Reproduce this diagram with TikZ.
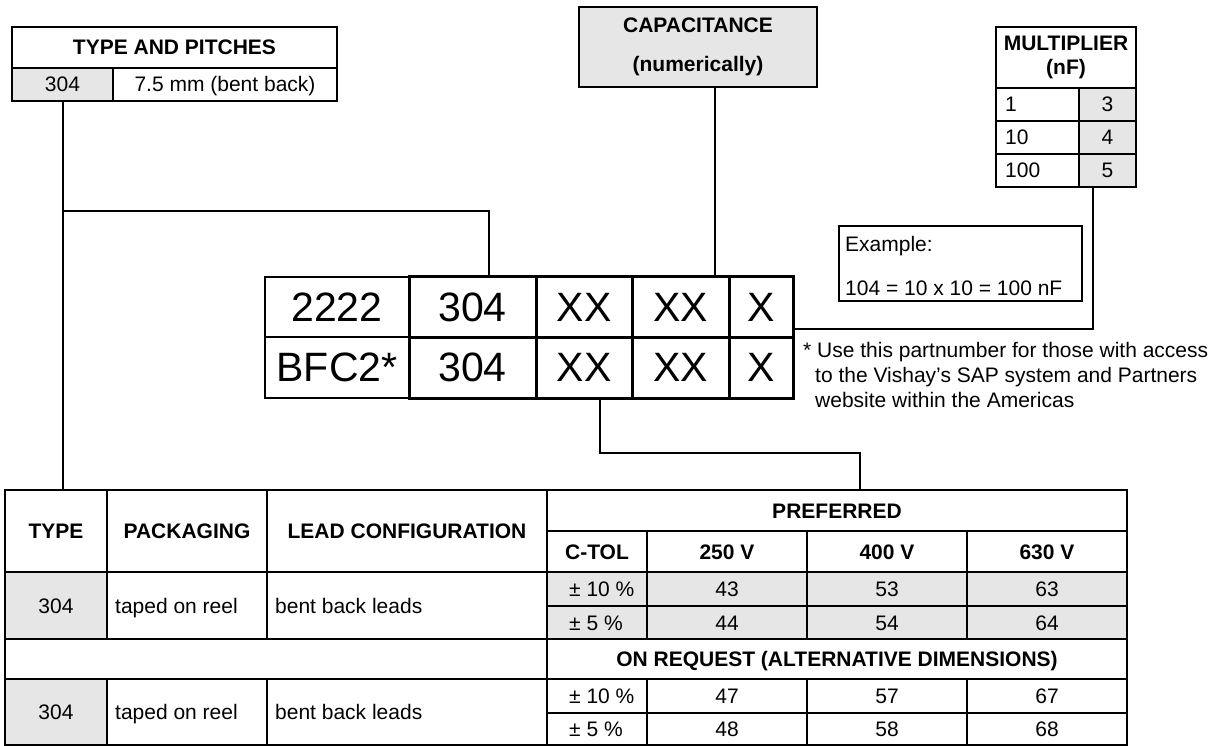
\documentclass[tikz,border=0pt]{standalone}
\usepackage{fontspec}
\setmainfont{Liberation Sans}
\definecolor{cellgray}{HTML}{E6E6E6}
\newcommand\cellbox[7]{%
  \node[#6, minimum width={(#4-#2)*1pt}, minimum height={(#5-#3)*1pt}, anchor=north west] (#1) at (#2,#3) {#7};}
\newcommand\lefttext[4]{%
  \node[tx, anchor=west, inner sep=0pt] (#1) at ([xshift=#3pt]#2.west) {#4};}
\begin{document}
\begin{tikzpicture}[x=1pt,y=-1pt,
  cell/.style={draw, line width=2pt, inner sep=0pt, outer sep=0pt},
  gcell/.style={cell, fill=cellgray},
  pcell/.style={draw, line width=3pt, inner sep=0pt, outer sep=0pt, font=\fontsize{41}{48}\selectfont},
  pcellthin/.style={pcell, line width=1.8pt},
  hd/.style={font=\fontsize{21}{25}\selectfont\bfseries, text height=16pt, text depth=1pt},
  tx/.style={font=\fontsize{21}{25}\selectfont, text height=16pt, text depth=1pt},
  conn/.style={line width=2pt},
]
\useasboundingbox (0,0) rectangle (1216,746);
\fill[white] (0,0) rectangle (1216,746);

% TYPE AND PITCHES
\cellbox{tpH}{12}{27}{337}{68}{cell,hd}{TYPE AND PITCHES}
\cellbox{tpA}{12}{68}{113}{101}{gcell,tx}{304}
\cellbox{tpB}{113}{68}{337}{101}{cell,tx}{7.5 mm (bent back)}

% CAPACITANCE
\cellbox{cap}{579}{7}{817}{87}{gcell,align=center,font=\fontsize{21}{39}\selectfont\bfseries}{CAPACITANCE\\(numerically)}

% MULTIPLIER
\cellbox{mH}{996}{27}{1136}{88}{cell,align=center,font=\fontsize{21}{24}\selectfont\bfseries}{MULTIPLIER\\(nF)}
\cellbox{mA1}{996}{88}{1079}{121}{cell}{}
\cellbox{mB1}{1079}{88}{1136}{121}{gcell,tx}{3}
\cellbox{mA2}{996}{121}{1079}{154}{cell}{}
\cellbox{mB2}{1079}{121}{1136}{154}{gcell,tx}{4}
\cellbox{mA3}{996}{154}{1079}{187}{cell}{}
\cellbox{mB3}{1079}{154}{1136}{187}{gcell,tx}{5}
\lefttext{mT1}{mA1}{9}{1}
\lefttext{mT2}{mA2}{9}{10}
\lefttext{mT3}{mA3}{9}{100}

% Example
\cellbox{ex}{839}{226}{1082}{301}{cell}{}
\node[tx, anchor=base west, inner sep=0pt, text height=, text depth=] (exA) at (845,252) {Example:};
\node[tx, anchor=base west, inner sep=0pt, text height=, text depth=] (exB) at (845,295) {104 = 10 x 10 = 100 nF};

% part number
\cellbox{pA1}{265}{277}{409}{337}{pcellthin}{2222}
\cellbox{pA2}{265}{337}{409}{398}{pcellthin}{BFC2*}
\cellbox{pB1}{409}{277}{536}{337}{pcell}{304}
\cellbox{pB2}{409}{337}{536}{398}{pcell}{304}
\cellbox{pC1}{536}{277}{632}{337}{pcell}{XX}
\cellbox{pC2}{536}{337}{632}{398}{pcell}{XX}
\cellbox{pD1}{632}{277}{729}{337}{pcell}{XX}
\cellbox{pD2}{632}{337}{729}{398}{pcell}{XX}
\cellbox{pE1}{729}{277}{793}{337}{pcell}{X}
\cellbox{pE2}{729}{337}{793}{398}{pcell}{X}

% footnote
\node[tx, anchor=base west, inner sep=0pt, text height=, text depth=] (fn1) at (803,357) {* Use this partnumber for those with access};
\node[tx, anchor=base west, inner sep=0pt, text height=, text depth=] (fn2) at (815,382) {to the Vishay’s SAP system and Partners};
\node[tx, anchor=base west, inner sep=0pt, text height=, text depth=] (fn3) at (815,407) {website within the Americas};

% table header
\cellbox{tType}{5}{490}{107}{572}{cell,hd}{TYPE}
\cellbox{tPack}{107}{490}{267}{572}{cell,hd}{PACKAGING}
\cellbox{tLead}{267}{490}{547}{572}{cell,hd}{LEAD CONFIGURATION}
\cellbox{tPref}{547}{490}{1127}{531}{cell,hd}{PREFERRED}
\cellbox{tTol}{547}{531}{647}{572}{cell,hd}{C-TOL}
\cellbox{tVa}{647}{531}{807}{572}{cell,hd}{250 V}
\cellbox{tVb}{807}{531}{967}{572}{cell,hd}{400 V}
\cellbox{tVc}{967}{531}{1127}{572}{cell,hd}{630 V}

% preferred rows
\cellbox{aType}{5}{572}{107}{639}{gcell,tx}{304}
\cellbox{aPack}{107}{572}{267}{639}{cell}{}
\cellbox{aLead}{267}{572}{547}{639}{cell}{}
\lefttext{aPackT}{aPack}{8}{taped on reel}
\lefttext{aLeadT}{aLead}{8}{bent back leads}
\cellbox{aTol1}{547}{572}{647}{606}{gcell}{}
\cellbox{aV11}{647}{572}{807}{606}{gcell,tx}{43}
\cellbox{aV12}{807}{572}{967}{606}{gcell,tx}{53}
\cellbox{aV13}{967}{572}{1127}{606}{gcell,tx}{63}
\cellbox{aTol2}{547}{606}{647}{639}{gcell}{}
\cellbox{aV21}{647}{606}{807}{639}{gcell,tx}{44}
\cellbox{aV22}{807}{606}{967}{639}{gcell,tx}{54}
\cellbox{aV23}{967}{606}{1127}{639}{gcell,tx}{64}
\lefttext{aTol1T}{aTol1}{22}{± 10 \%}
\lefttext{aTol2T}{aTol2}{22}{± 5 \%}

% on request
\cellbox{rBlank}{5}{639}{547}{679}{cell}{}
\cellbox{rReq}{547}{639}{1127}{679}{cell,hd}{ON REQUEST (ALTERNATIVE DIMENSIONS)}

\cellbox{bType}{5}{679}{107}{745}{gcell,tx}{304}
\cellbox{bPack}{107}{679}{267}{745}{cell}{}
\cellbox{bLead}{267}{679}{547}{745}{cell}{}
\lefttext{bPackT}{bPack}{8}{taped on reel}
\lefttext{bLeadT}{bLead}{8}{bent back leads}
\cellbox{bTol1}{547}{679}{647}{713}{cell}{}
\cellbox{bV11}{647}{679}{807}{713}{cell,tx}{47}
\cellbox{bV12}{807}{679}{967}{713}{cell,tx}{57}
\cellbox{bV13}{967}{679}{1127}{713}{cell,tx}{67}
\cellbox{bTol2}{547}{713}{647}{745}{cell}{}
\cellbox{bV21}{647}{713}{807}{745}{cell,tx}{48}
\cellbox{bV22}{807}{713}{967}{745}{cell,tx}{58}
\cellbox{bV23}{967}{713}{1127}{745}{cell,tx}{68}
\lefttext{bTol1T}{bTol1}{22}{± 10 \%}
\lefttext{bTol2T}{bTol2}{22}{± 5 \%}

% connectors
\draw[conn] (tpA.south) -- (tpA.south |- tType.north);
\coordinate (jL) at (tpA.south |- 0,211);
\draw[conn] (jL) -| ([xshift=16.5pt]pB1.north);
\draw[conn] ([xshift=17pt]cap.south) -- ([xshift=17pt]cap.south |- pD1.north);
\draw[conn] ([xshift=-14.5pt]mB3.south) |- ([yshift=8pt]pE1.south east);
\draw[conn] ([xshift=16pt]pC2.south) -- ++(0,55) -| ([xshift=23pt]tPref.north);
\end{tikzpicture}
\end{document}
